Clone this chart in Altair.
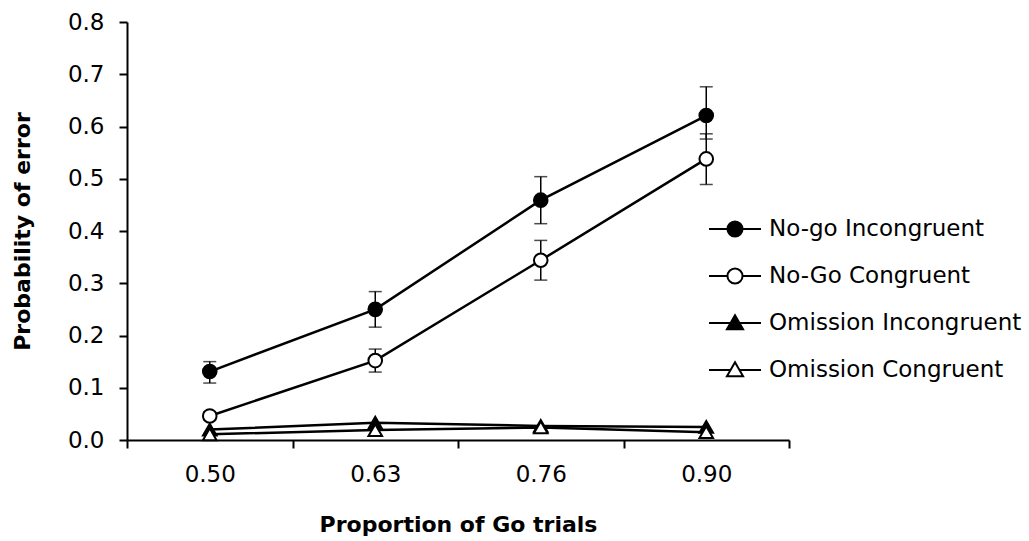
import altair as alt
import pandas as pd

x_labels = ["0.50", "0.63", "0.76", "0.90"]
series_names = ["No-go Incongruent", "No-Go Congruent", "Omission Incongruent", "Omission Congruent"]

nogo_incong = [0.131, 0.250, 0.459, 0.621]
nogo_incong_lo = [0.109, 0.216, 0.414, 0.576]
nogo_incong_hi = [0.150, 0.284, 0.504, 0.676]

nogo_cong = [0.046, 0.152, 0.344, 0.538]
nogo_cong_lo = [0.038, 0.130, 0.306, 0.489]
nogo_cong_hi = [0.054, 0.174, 0.382, 0.586]

omis_incong = [0.020, 0.033, 0.027, 0.025]
omis_cong = [0.011, 0.019, 0.024, 0.015]

fills = ["black", "white", "black", "white"]
strokes = ["black", "black", "black", "black"]
plot_shapes = ["circle", "circle", "triangle-up", "triangle-up"]
circle_path = "M-1,0L-0.29,0M0.29,0L1,0M0.29,0A0.29,0.29,0,1,1,-0.29,0A0.29,0.29,0,1,1,0.29,0Z"
tri_path = "M-1,0L-0.17,0M0.17,0L1,0M0,-0.3L0.31,0.24L-0.31,0.24Z"
legend_shapes = [circle_path, circle_path, tri_path, tri_path]

rows = []
all_vals = [nogo_incong, nogo_cong, omis_incong, omis_cong]
for s, vals in zip(series_names, all_vals):
    for i, x in enumerate(x_labels):
        rows.append({"x": x, "series": s, "value": vals[i]})
df = pd.DataFrame(rows)

err_rows = []
for s, lo, hi in [(series_names[0], nogo_incong_lo, nogo_incong_hi),
                  (series_names[1], nogo_cong_lo, nogo_cong_hi)]:
    for i, x in enumerate(x_labels):
        err_rows.append({"x": x, "series": s, "lo": lo[i], "hi": hi[i]})
edf = pd.DataFrame(err_rows)

FONT = "DejaVu Sans"

x_enc = alt.X(
    "x:N",
    sort=x_labels,
    scale=alt.Scale(type="band", domain=x_labels, paddingInner=0, paddingOuter=0),
    axis=alt.Axis(
        title="Proportion of Go trials",
        labelAngle=0,
        tickBand="extent",
        labelPadding=15,
        titlePadding=28,
    ),
)
y_enc = alt.Y(
    "value:Q",
    scale=alt.Scale(domain=[0, 0.8], nice=False, zero=True),
    axis=alt.Axis(
        title="Probability of error",
        values=[0, 0.1, 0.2, 0.3, 0.4, 0.5, 0.6, 0.7, 0.8],
        format=".1f",
        labelPadding=15,
        titlePadding=33,
    ),
)

lines = alt.Chart(df).mark_line(color="black", strokeWidth=2.5).encode(
    x=x_enc, y=y_enc, detail="series:N"
)

err_rule = alt.Chart(edf).mark_rule(color="black", strokeWidth=1.5).encode(
    x=alt.X("x:N", sort=x_labels), y=alt.Y("lo:Q"), y2="hi:Q"
)
err_lo = alt.Chart(edf).mark_tick(color="black", size=13, thickness=1.5).encode(
    x=alt.X("x:N", sort=x_labels), y=alt.Y("lo:Q")
)
err_hi = alt.Chart(edf).mark_tick(color="black", size=13, thickness=1.5).encode(
    x=alt.X("x:N", sort=x_labels), y=alt.Y("hi:Q")
)

points = alt.Chart(df).mark_point(
    stroke="black", strokeWidth=2, opacity=1, size=185
).encode(
    x=alt.X("x:N", sort=x_labels),
    y=alt.Y("value:Q"),
    shape=alt.Shape("series:N", scale=alt.Scale(domain=series_names, range=plot_shapes), legend=None),
    fill=alt.Fill("series:N", scale=alt.Scale(domain=series_names, range=fills), legend=None),
)


def make_legend():
    return alt.Legend(
        title=None,
        orient="none",
        legendX=581,
        legendY=180,
        symbolSize=2704,
        symbolStrokeColor="black",
        symbolStrokeWidth=2,
        symbolOpacity=1,
        labelFontSize=23,
        labelFont=FONT,
        labelColor="black",
        labelOffset=7,
        labelLimit=0,
        rowPadding=8,
        padding=0,
    )


legend_layer = alt.Chart(df).mark_point(
    strokeWidth=2, opacity=0, size=10
).encode(
    x=alt.X("x:N", sort=x_labels),
    y=alt.Y("value:Q"),
    shape=alt.Shape("series:N", scale=alt.Scale(domain=series_names, range=legend_shapes), legend=make_legend()),
    fill=alt.Fill("series:N", scale=alt.Scale(domain=series_names, range=fills), legend=make_legend()),
    stroke=alt.Stroke("series:N", scale=alt.Scale(domain=series_names, range=strokes), legend=make_legend()),
)

chart = (
    alt.layer(lines, err_rule, err_lo, err_hi, legend_layer, points)
    .resolve_scale(shape="independent", fill="independent", stroke="independent")
    .properties(
        width=662,
        height=418,
        autosize=alt.AutoSizeParams(type="none"),
        padding={"left": 127, "top": 22, "right": 240, "bottom": 101},
        background="white",
    )
    .configure_view(stroke=None)
    .configure_axis(
        grid=False,
        domainColor="black",
        domainWidth=2,
        tickColor="black",
        tickWidth=2,
        tickSize=8,
        labelFont=FONT,
        labelFontSize=23,
        labelColor="black",
        titleFont=FONT,
        titleFontSize=22,
        titleFontWeight="bold",
        titleColor="black",
    )
)

chart.save("out.html", embed_options={"renderer": "svg", "actions": False})
